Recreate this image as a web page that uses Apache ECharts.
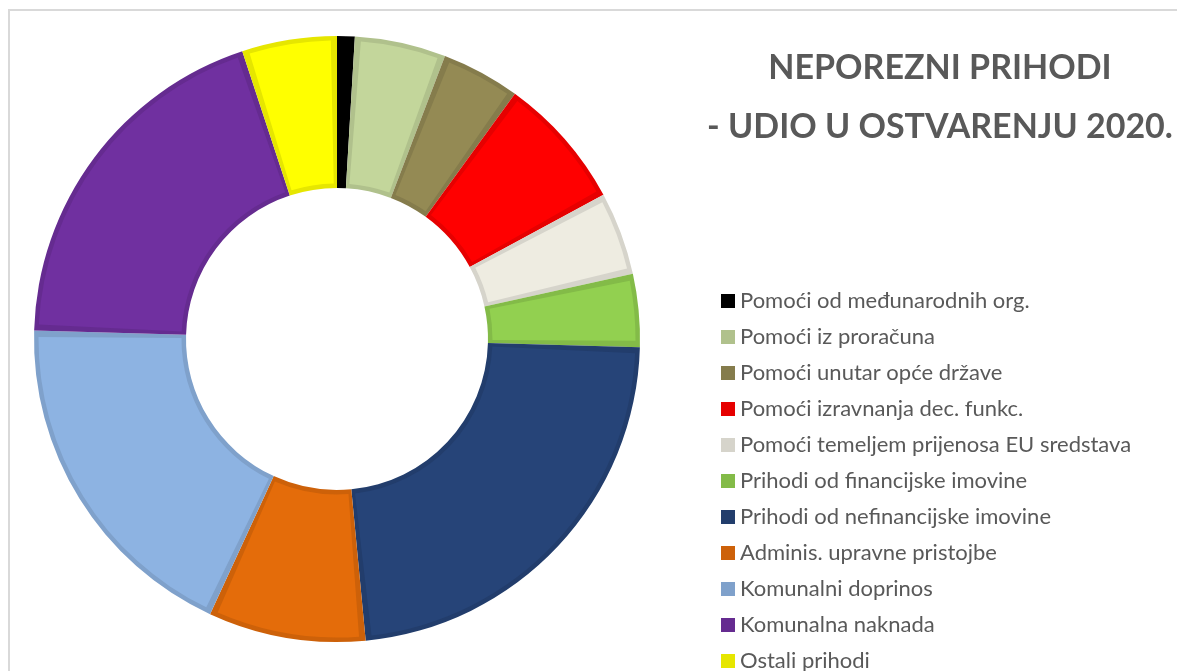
<!DOCTYPE html>
<html>
<head>
<meta charset="utf-8">
<script src="https://cdn.jsdelivr.net/npm/echarts@6/dist/echarts.min.js"></script>
<style>
    html, body { margin: 0; padding: 0; background: #fff; }
    #pieChart { width: 1177px; height: 671px; }
</style>
</head>
<body>
<div id="pieChart"></div>
<script>
const categories = [
    'Pomoći od međunarodnih org.',
    'Pomoći iz proračuna',
    'Pomoći unutar opće države',
    'Pomoći izravnanja dec. funkc.',
    'Pomoći temeljem prijenosa EU sredstava',
    'Prihodi od financijske imovine',
    'Prihodi od nefinancijske imovine',
    'Adminis. upravne pristojbe',
    'Komunalni doprinos',
    'Komunalna naknada',
    'Ostali prihodi'
];
// udio u % (očitano s grafa)
const shares = [0.94, 4.86, 4.19, 7.11, 4.44, 3.89, 23.06, 8.39, 18.56, 19.50, 5.06];
const fillColors = ['#000000', '#C3D69B', '#948A54', '#FF0000', '#EEECE1', '#92D050',
    '#264478', '#E46C0A', '#8DB3E2', '#7030A0', '#FFFF00'];

// rub je 10% tamniji od ispune (kao u Excelu)
function darker(hex) {
    const n = parseInt(hex.slice(1), 16);
    const c = [n >> 16, (n >> 8) & 255, n & 255].map(v => Math.round(v * 0.9));
    return 'rgb(' + c.join(',') + ')';
}
const edgeColors = fillColors.map(darker);

const chartDom = document.getElementById('pieChart');
const myChart = echarts.init(chartDom);

const center = [337, 339];

const option = {
    animation: false,
    graphic: [
        {
            type: 'rect',
            shape: { x: 9, y: 10, width: 1300, height: 800 },
            style: { fill: 'none', stroke: '#D9D9D9', lineWidth: 2 },
            silent: true
        },
        {
            type: 'text',
            x: 940,
            y: 39,
            style: {
                text: 'NEPOREZNI PRIHODI\n- UDIO U OSTVARENJU 2020.',
                textAlign: 'center',
                fill: '#595959',
                fontFamily: 'Lato',
                fontWeight: 'bold',
                fontSize: 34,
                lineHeight: 59
            },
            silent: true
        }
    ],
    legend: {
        orient: 'vertical',
        left: 721,
        top: 290,
        height: 420,
        padding: 0,
        itemWidth: 14,
        itemHeight: 14,
        itemGap: 14,
        selectedMode: false,
        icon: 'rect',
        data: categories.map((name, i) => ({
            name: name,
            itemStyle: { color: edgeColors[i], borderWidth: 0 }
        })),
        textStyle: {
            fontFamily: 'Lato',
            fontSize: 22,
            lineHeight: 22,
            color: '#595959'
        }
    },
    series: [
        {
            name: 'rub',
            type: 'pie',
            center: center,
            radius: [151, 303],
            startAngle: 90,
            clockwise: true,
            silent: true,
            label: { show: false },
            labelLine: { show: false },
            emphasis: { disabled: true },
            data: categories.map((name, i) => ({
                name: name,
                value: shares[i],
                itemStyle: { color: edgeColors[i], borderWidth: 0 }
            }))
        },
        {
            name: 'ispuna',
            type: 'pie',
            center: center,
            radius: [155.5, 298.5],
            startAngle: 90,
            clockwise: true,
            padAngle: 2.4,
            silent: true,
            label: { show: false },
            labelLine: { show: false },
            emphasis: { disabled: true },
            data: categories.map((name, i) => ({
                name: name,
                value: shares[i],
                itemStyle: { color: fillColors[i], borderWidth: 0 }
            }))
        }
    ]
};

myChart.setOption(option);
</script>
</body>
</html>
